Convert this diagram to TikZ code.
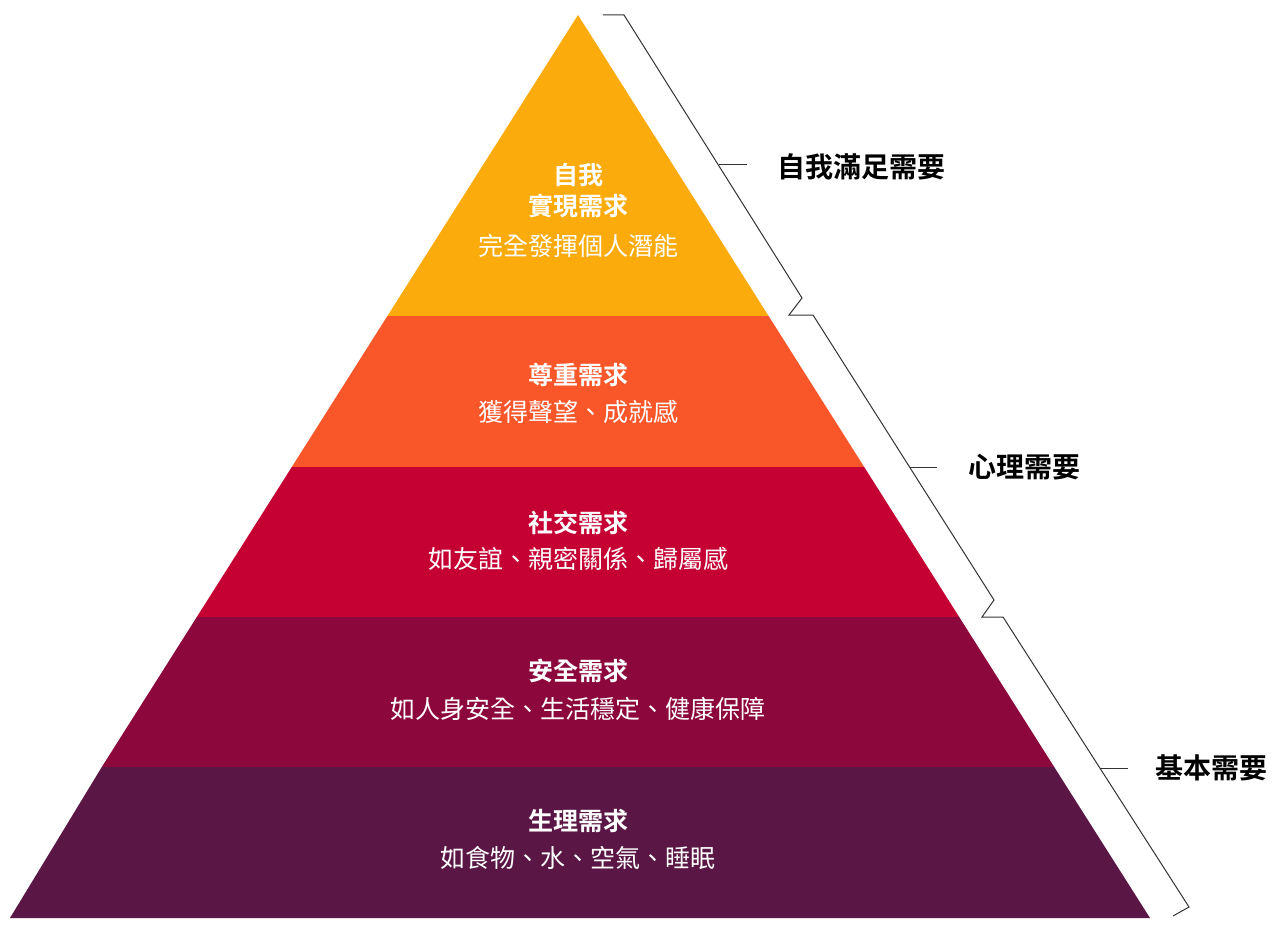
\documentclass[tikz,border=0pt]{standalone}
\usepackage{fontspec}
\newfontfamily\cjk{Noto Sans CJK TC}
\newfontfamily\cjkb{Noto Sans CJK TC Bold}
\definecolor{c1}{HTML}{FBAB0B}
\definecolor{c2}{HTML}{F9572A}
\definecolor{c3}{HTML}{C50134}
\definecolor{c4}{HTML}{8C073C}
\definecolor{c5}{HTML}{5A1745}
\begin{document}
\begin{tikzpicture}[x=1pt,y=-1pt,
  tt/.style={text=white,font=\cjkb\fontsize{25}{30}\selectfont,inner sep=0pt},
  st/.style={text=white,font=\cjk\fontsize{25}{30}\selectfont,inner sep=0pt},
  rl/.style={text=black,font=\cjkb\fontsize{28}{32}\selectfont,inner sep=0pt},
  br/.style={draw=black!80,line width=1pt}]
\useasboundingbox (0,0) rectangle (1282,928);
% pyramid layers (apex 578,15; base 10..1150 at 918)
\fill[c1] (578,15) -- (768.6,316) -- (387.4,316) -- cycle;
\fill[c2] (387.4,316) -- (768.6,316) -- (864.2,467) -- (291.8,467) -- cycle;
\fill[c3] (291.8,467) -- (864.2,467) -- (959.2,617) -- (196.8,617) -- cycle;
\fill[c4] (196.8,617) -- (959.2,617) -- (1054.2,767) -- (101.8,767) -- cycle;
\fill[c5] (101.8,767) -- (1054.2,767) -- (1150,918) -- (10,918) -- cycle;
% texts
\node[tt] (t1a) at (578,175) {自我};
\node[tt] (t1b) at (578,206) {實現需求};
\node[st] (s1) at (578,246) {完全發揮個人潛能};
\node[tt] (t2) at (578,375) {尊重需求};
\node[st] (s2) at (578,412) {獲得聲望、成就感};
\node[tt] (t3) at (578,523) {社交需求};
\node[st] (s3) at (578,559) {如友誼、親密關係、歸屬感};
\node[tt] (t4) at (578,671) {安全需求};
\node[st] (s4) at (578,709) {如人身安全、生活穩定、健康保障};
\node[tt] (t5) at (578,821) {生理需求};
\node[st] (s5) at (578,858) {如食物、水、空氣、睡眠};
% braces
\coordinate (a0) at (603,15); \coordinate (a1) at (624,15);
\coordinate (a2) at (802,298); \coordinate (a3) at (789,315);
\coordinate (m1) at (719,165); \coordinate (n1) at (747,165);
\draw[br] (a0) -- (a1) -- (a2) -- (a3) -- (813,315) -- (994,600) -- (982,617) -- (1003,617) -- (1189,907) -- (1173,916);
\draw[br] (m1) -- (n1);
\coordinate (m2) at (910,467); \coordinate (n2) at (937,467);
\draw[br] (m2) -- (n2);
\coordinate (m3) at (1100,768); \coordinate (n3) at (1128,768);
\draw[br] (m3) -- (n3);
\node[rl,anchor=west] (r1) at (777,167) {自我滿足需要};
\node[rl,anchor=west] (r2) at (968,467) {心理需要};
\node[rl,anchor=west] (r3) at (1155,768) {基本需要};
\end{tikzpicture}
\end{document}
